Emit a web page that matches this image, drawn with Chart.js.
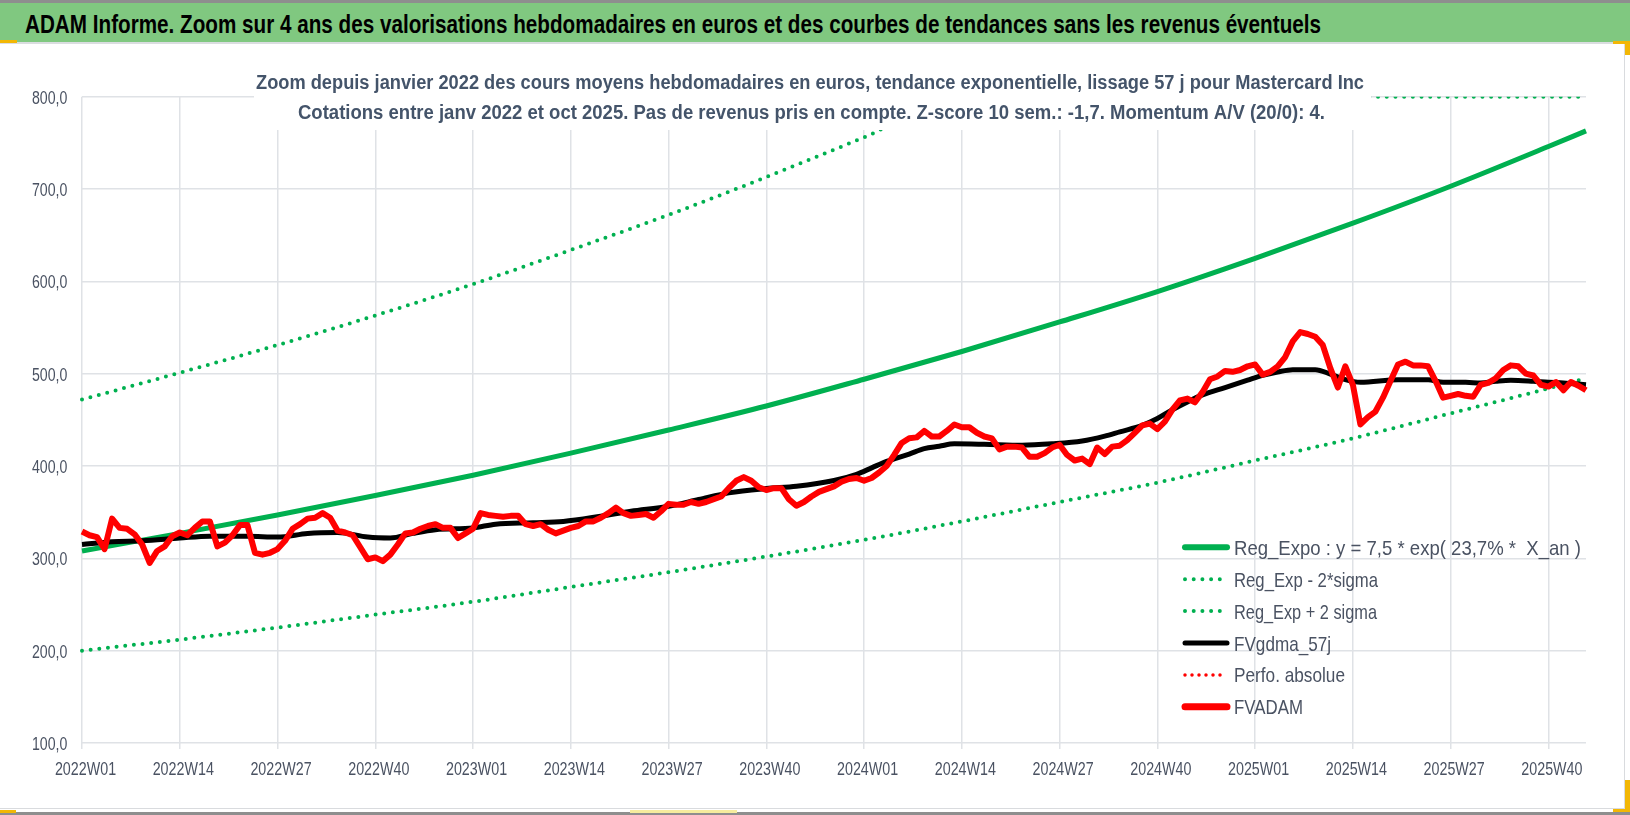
<!DOCTYPE html>
<html lang="fr">
<head>
<meta charset="utf-8">
<title>ADAM Informe – Mastercard Inc</title>
<script src="https://cdn.jsdelivr.net/npm/chart.js@4.4.1/dist/chart.umd.min.js"></script>
<style>
  html, body { margin: 0; padding: 0; background: #fff; }
  body { width: 1630px; height: 815px; position: relative; overflow: hidden;
         font-family: "Liberation Sans Narrow", "Liberation Sans", sans-serif; }
  #topline { position: absolute; left: 0; top: 0; width: 1630px; height: 3px; background: #8e8e8e; }
  #bar { position: absolute; left: 0; top: 3px; width: 1630px; height: 39px; background: #80c880;
         border-bottom: 2px solid #dadde0; }
  #barText { position: absolute; left: 25px; top: 8px; font-weight: bold; font-size: 26px; line-height: 26px;
             color: #000; white-space: pre; transform-origin: 0 0; }
  #card { position: absolute; left: 0; top: 44px; width: 1624px; height: 764px;
          border-right: 1.5px solid #d9dbde; border-bottom: 1.5px solid #d9dbde; }
  #bottomline { position: absolute; left: 0; top: 812px; width: 1630px; height: 3px; background: #8e8e8e; }
  .mark { position: absolute; background: #f2b705; }
</style>
</head>
<body>
<div id="topline"></div>
<div id="bar"><span id="barText">ADAM Informe. Zoom sur 4 ans des valorisations hebdomadaires en euros et des courbes de tendances sans les revenus éventuels</span></div>
<div id="card"><canvas id="chart"></canvas></div>
<div id="bottomline"></div>
<div class="mark" style="left:0;top:40px;width:17px;height:3px"></div>
<div class="mark" style="left:1613px;top:41px;width:13px;height:3px"></div>
<div class="mark" style="left:1625px;top:41px;width:5px;height:14px"></div>
<div class="mark" style="left:1625px;top:780px;width:5px;height:32px"></div>
<div class="mark" style="left:1613px;top:809px;width:17px;height:3px"></div>
<div class="mark" style="left:0;top:810px;width:16px;height:3px"></div>
<div class="mark" style="left:630px;top:810px;width:107px;height:3px;background:#f6ec9e"></div>

<script>
"use strict";

// ── Data ─────────────────────────────────────────────────────────────────────

// ISO weeks shown on the category axis (2022W01 .. 2025W45)
const YEAR_WEEKS = [[2022, 52], [2023, 52], [2024, 52], [2025, 45]];
const WEEK_LABELS = [];
YEAR_WEEKS.forEach(([year, n]) => {
  for (let w = 1; w <= n; w++) WEEK_LABELS.push(`${year}W${String(w).padStart(2, "0")}`);
});

// FVADAM: weekly average price in euros, one value per week
const FVADAM = [
  329, 325, 323, 310, 343, 333, 332, 326, 315, 295, 308, 313, 324,
  328, 325, 333, 340, 340, 313, 317, 325, 336, 336, 306, 304, 306,
  310, 319, 332, 337, 343, 344, 349, 344, 330, 328, 325, 312, 299,
  301, 297, 304, 315, 327, 328, 332, 335, 337, 333, 333, 322, 327,
  332, 349, 347, 346, 345, 346, 346, 337, 335, 337, 331, 327, 330,
  333, 335, 340, 340, 344, 349, 355, 349, 346, 347, 348, 344, 351,
  359, 358, 358, 361, 359, 361, 364, 367, 376, 384, 388, 384, 377,
  374, 376, 376, 364, 357, 361, 367, 372, 375, 378, 383, 386, 387,
  384, 387, 393, 400, 412, 425, 430, 431, 438, 432, 432, 438, 445,
  442, 442, 436, 432, 430, 418, 421, 421, 420, 410, 410, 414, 420,
  423, 412, 406, 408, 402, 420, 413, 421, 422, 428, 436, 444, 446,
  440, 448, 461, 471, 473, 469, 480, 494, 497, 503, 502, 504, 508,
  510, 499, 502, 508, 518, 535, 545, 543, 540, 531, 506, 485, 508,
  488, 445, 453, 459, 474, 492, 510, 513, 509, 509, 508, 492, 474,
  476, 478, 476, 475, 488, 490, 495, 504, 509, 508, 500, 498, 488,
  486, 491, 482, 491, 487, 482
];

// FVgdma_57j: smoothed price, read at these weeks
const MA_WEEKS = [
  "2022W01", "2022W05", "2022W09", "2022W14", "2022W18", "2022W23", "2022W27", "2022W31",
  "2022W35", "2022W39", "2022W42", "2022W45", "2022W48", "2023W01", "2023W04", "2023W09",
  "2023W13", "2023W18", "2023W22", "2023W27", "2023W31", "2023W35", "2023W40", "2023W44",
  "2023W49", "2023W52", "2024W02", "2024W04", "2024W07", "2024W09", "2024W11", "2024W13",
  "2024W17", "2024W22", "2024W26", "2024W30", "2024W33", "2024W35", "2024W38", "2024W40",
  "2024W42", "2024W44", "2024W46", "2024W49", "2024W52", "2025W02", "2025W04", "2025W06",
  "2025W09", "2025W11", "2025W13", "2025W15", "2025W20", "2025W24", "2025W26", "2025W29",
  "2025W31", "2025W33", "2025W35", "2025W38", "2025W40", "2025W42", "2025W45"
];
const FVGDMA_57J = [
  315, 318, 319, 322, 324, 324, 323, 327,
  328, 323, 322, 327, 331, 333, 337, 338.5,
  340, 345.7, 351, 356.5, 363.7, 370.9, 375.6, 378,
  384.3, 391, 398, 405, 413, 418.9, 421.4, 424,
  423.5, 422.5, 424, 427, 432.3, 437, 444, 451.4,
  461, 469.4, 477, 485, 493, 498.2, 501.8, 504.3,
  504.3, 499.6, 493.5, 490.6, 493.5, 493.5, 490.6, 490.6,
  490, 491.7, 492.8, 491.7, 490.6, 490, 488
];

// Exponential regression and its ±2 sigma bands, read at the labelled weeks
const TREND_WEEKS = [
  "2022W01", "2022W14", "2022W27", "2022W40", "2023W01", "2023W14", "2023W27", "2023W40",
  "2024W01", "2024W14", "2024W27", "2024W40", "2025W01", "2025W14", "2025W27", "2025W40", "2025W45"
];
const REG_EXPO = [308, 327, 347, 368, 390, 414, 439, 465, 494, 524, 556, 589, 625, 663, 703, 746, 763];
const REG_LOW  = [200, 212, 225, 239, 253, 269, 285, 302, 320, 340, 361, 382, 406, 430, 457, 484, 495];
const REG_HIGH = [472, 501, 531, 563, 597, 634, 672, 713, 756, 800, 800, 800, 800, 800, 800, 800, 800];

const Y_MIN = 100;
const Y_MAX = 800;
const Y_STEP = 100;
const LABEL_EVERY = 13;

const TITLE_LINES = [
  "Zoom depuis janvier 2022 des cours moyens hebdomadaires en euros, tendance exponentielle, lissage 57 j pour Mastercard Inc",
  "Cotations entre janv 2022 et oct 2025. Pas de revenus pris en compte. Z-score 10 sem.: -1,7. Momentum A/V (20/0): 4."
];

// ── Styles ───────────────────────────────────────────────────────────────────

const FONT = '"Liberation Sans Narrow", "Liberation Sans", sans-serif';
const GREEN = "#00b050";
const RED = "#ff0000";
const GRID = "#dfe2e6";
const TICK_COLOR = "#4a5262";
const TITLE_COLOR = "#44546a";
const DOTS = [0, 8.7];

// ── Helpers ──────────────────────────────────────────────────────────────────

function toPoints(weeks, values) {
  return weeks.map((w, i) => ({ x: w, y: values[i] }));
}

// draw text squeezed horizontally to a measured width
function fitText(ctx, text, x, y, width, align) {
  const k = width / ctx.measureText(text).width;
  squeezeText(ctx, text, x, y, k, align);
}

// same, with a fixed squeeze factor
function squeezeText(ctx, text, x, y, k, align) {
  ctx.save();
  ctx.translate(x, y);
  ctx.scale(k, 1);
  ctx.textAlign = align;
  ctx.fillText(text, 0, 0);
  ctx.restore();
}

function fitBarTitle() {
  const el = document.getElementById("barText");
  const k = 1296 / el.getBoundingClientRect().width;
  el.style.transform = `scaleX(${k})`;
}

// ── Plugins ──────────────────────────────────────────────────────────────────

// two-line title sitting on a white box over the top of the plot
const titleBox = {
  id: "titleBox",
  afterDatasetsDraw(chart) {
    const { ctx } = chart;
    ctx.save();
    ctx.fillStyle = "#fff";
    ctx.fillRect(254, 18, 1117, 68);
    ctx.font = `bold 19.5px ${FONT}`;
    ctx.fillStyle = TITLE_COLOR;
    ctx.textBaseline = "alphabetic";
    fitText(ctx, TITLE_LINES[0], 810, 45.3, 1108, "center");
    fitText(ctx, TITLE_LINES[1], 811.5, 75.3, 1027, "center");
    ctx.restore();
  },
};

// narrow tick labels placed through the chart scales
const narrowTicks = {
  id: "narrowTicks",
  afterDraw(chart) {
    const { ctx, chartArea } = chart;
    const xs = chart.scales.x;
    const ys = chart.scales.y;
    ctx.save();
    ctx.fillStyle = TICK_COLOR;
    ctx.textBaseline = "alphabetic";

    ctx.font = `18px ${FONT}`;
    const kx = 61.2 / ctx.measureText("2022W01").width;
    for (let i = 0; i < WEEK_LABELS.length; i += LABEL_EVERY) {
      squeezeText(ctx, WEEK_LABELS[i], xs.getPixelForValue(i) + 3.5, chartArea.bottom + 31.5, kx, "center");
    }

    ctx.font = `18.5px ${FONT}`;
    const ky = 35.4 / ctx.measureText("800,0").width;
    ys.ticks.forEach(t => {
      const label = t.value.toFixed(1).replace(".", ",");
      squeezeText(ctx, label, chartArea.left - 14.6, ys.getPixelForValue(t.value) + 7, ky, "right");
    });
    ctx.restore();
  },
};

// legend inside the plot, lower right
const LEGEND_WIDTHS = [347, 144, 143, 97, 111, 69];
const boxLegend = {
  id: "boxLegend",
  afterDraw(chart) {
    const { ctx } = chart;
    ctx.save();
    ctx.font = `21px ${FONT}`;
    chart.data.datasets.forEach((ds, i) => {
      const y = 503.3 + i * 31.9;
      ctx.beginPath();
      ctx.strokeStyle = ds.borderColor;
      ctx.lineWidth = ds.legendWidth;
      ctx.lineCap = "round";
      ctx.setLineDash(ds.borderDash || []);
      ctx.moveTo(1185, y);
      ctx.lineTo(1227, y);
      ctx.stroke();
      ctx.setLineDash([]);
      ctx.fillStyle = TICK_COLOR;
      ctx.textBaseline = "alphabetic";
      fitText(ctx, ds.label, 1234, y + 7.5, LEGEND_WIDTHS[i], "left");
    });
    ctx.restore();
  },
};

// ── Chart ────────────────────────────────────────────────────────────────────

function init() {
  fitBarTitle();

  const datasets = [
    {
      label: "Reg_Expo : y = 7,5 * exp( 23,7% *  X_an )",
      data: toPoints(TREND_WEEKS, REG_EXPO),
      borderColor: GREEN, borderWidth: 5, legendWidth: 6,
      cubicInterpolationMode: "monotone", order: 6,
    },
    {
      label: "Reg_Exp - 2*sigma",
      data: toPoints(TREND_WEEKS, REG_LOW),
      borderColor: GREEN, borderWidth: 4, legendWidth: 4,
      borderDash: DOTS, borderCapStyle: "round",
      cubicInterpolationMode: "monotone", order: 5,
    },
    {
      label: "Reg_Exp + 2 sigma",
      data: toPoints(TREND_WEEKS, REG_HIGH),
      borderColor: GREEN, borderWidth: 4, legendWidth: 4,
      borderDash: DOTS, borderCapStyle: "round",
      cubicInterpolationMode: "monotone", order: 4,
    },
    {
      label: "FVgdma_57j",
      data: toPoints(MA_WEEKS, FVGDMA_57J),
      borderColor: "#000", borderWidth: 5, legendWidth: 5,
      cubicInterpolationMode: "monotone", order: 3,
    },
    {
      label: "Perfo. absolue",
      data: [],
      borderColor: RED, borderWidth: 3, legendWidth: 3.5,
      borderDash: [0, 7], borderCapStyle: "round", order: 2,
    },
    {
      label: "FVADAM",
      data: FVADAM,
      borderColor: RED, borderWidth: 6, legendWidth: 7,
      borderJoinStyle: "round", order: 1,
    },
  ];

  new Chart(document.getElementById("chart"), {
    type: "line",
    data: { labels: WEEK_LABELS, datasets },
    options: {
      responsive: true,
      maintainAspectRatio: false,
      animation: false,
      events: [],
      elements: { point: { radius: 0 }, line: { tension: 0, fill: false } },
      layout: { padding: { left: 0, right: 38, top: 52.7, bottom: 5 } },
      plugins: {
        legend: { display: false },
        title: { display: false },
        tooltip: { enabled: false },
      },
      scales: {
        x: {
          type: "category",
          offset: false,
          grid: {
            color: c => (c.index % LABEL_EVERY === 0 ? GRID : "rgba(0,0,0,0)"),
            lineWidth: 1.5,
            tickLength: 6,
          },
          border: { display: false },
          ticks: { display: false, autoSkip: false, maxRotation: 0, minRotation: 0 },
          afterFit(scale) { scale.height = 60; },
        },
        y: {
          min: Y_MIN,
          max: Y_MAX,
          grid: { color: GRID, lineWidth: 1.5, drawTicks: false },
          border: { display: false },
          ticks: { display: false, stepSize: Y_STEP },
          afterFit(scale) { scale.width = 82; },
        },
      },
    },
    plugins: [titleBox, narrowTicks, boxLegend],
  });
}

document.addEventListener("DOMContentLoaded", init);
</script>
</body>
</html>
